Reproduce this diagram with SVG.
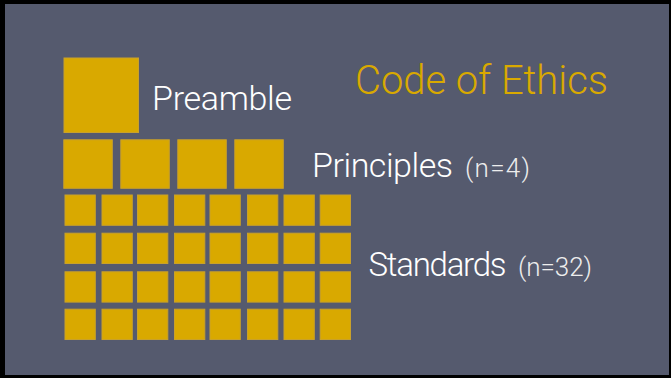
<svg xmlns="http://www.w3.org/2000/svg" width="671" height="378" viewBox="0 0 671 378">
<style>
.sq{fill:#D9A900;stroke:#C9A12A;stroke-width:1}
.lbl{font-family:Roboto,"Open Sans","Liberation Sans",sans-serif;font-weight:300;fill:#FFFFFF}
.sub{fill:#EDEDED}
.title{font-family:Roboto,"Open Sans","Liberation Sans",sans-serif;font-weight:300;fill:#D9A900}
</style>
<rect x="0" y="0" width="671" height="378" fill="#000000"/>
<rect x="5" y="4" width="664" height="371" fill="#555A6E"/>
<g id="title"><text class="title" x="355" y="94" font-size="40" textLength="253">Code of Ethics</text></g>
<g id="preamble">
<rect class="sq" x="64" y="58" width="74.5" height="74.5"/>
<text class="lbl" x="152" y="110" font-size="34" textLength="140">Preamble</text>
</g>
<g id="principles">
<rect class="sq" x="63.8" y="139.8" width="48.5" height="48.5"/>
<rect class="sq" x="120.8" y="139.8" width="48.5" height="48.5"/>
<rect class="sq" x="177.8" y="139.8" width="48.5" height="48.5"/>
<rect class="sq" x="234.8" y="139.8" width="48.5" height="48.5"/>
<text class="lbl" x="312" y="177" font-size="34"><tspan textLength="141">Principles</tspan><tspan class="sub" x="465" font-size="26" textLength="65">(n=4)</tspan></text>
</g>
<g id="standards">
<g id="std-grid">
<rect class="sq" x="65" y="195" width="30.3" height="30.3"/><rect class="sq" x="102" y="195" width="30.3" height="30.3"/><rect class="sq" x="137.5" y="195" width="30.3" height="30.3"/><rect class="sq" x="174.5" y="195" width="30.3" height="30.3"/><rect class="sq" x="210" y="195" width="30.3" height="30.3"/><rect class="sq" x="247.5" y="195" width="30.3" height="30.3"/><rect class="sq" x="284" y="195" width="30.3" height="30.3"/><rect class="sq" x="320.2" y="195" width="30.3" height="30.3"/>
<rect class="sq" x="65" y="233.2" width="30.3" height="30.3"/><rect class="sq" x="102" y="233.2" width="30.3" height="30.3"/><rect class="sq" x="137.5" y="233.2" width="30.3" height="30.3"/><rect class="sq" x="174.5" y="233.2" width="30.3" height="30.3"/><rect class="sq" x="210" y="233.2" width="30.3" height="30.3"/><rect class="sq" x="247.5" y="233.2" width="30.3" height="30.3"/><rect class="sq" x="284" y="233.2" width="30.3" height="30.3"/><rect class="sq" x="320.2" y="233.2" width="30.3" height="30.3"/>
<rect class="sq" x="65" y="271.8" width="30.3" height="30.3"/><rect class="sq" x="102" y="271.8" width="30.3" height="30.3"/><rect class="sq" x="137.5" y="271.8" width="30.3" height="30.3"/><rect class="sq" x="174.5" y="271.8" width="30.3" height="30.3"/><rect class="sq" x="210" y="271.8" width="30.3" height="30.3"/><rect class="sq" x="247.5" y="271.8" width="30.3" height="30.3"/><rect class="sq" x="284" y="271.8" width="30.3" height="30.3"/><rect class="sq" x="320.2" y="271.8" width="30.3" height="30.3"/>
<rect class="sq" x="65" y="309.2" width="30.3" height="30.3"/><rect class="sq" x="102" y="309.2" width="30.3" height="30.3"/><rect class="sq" x="137.5" y="309.2" width="30.3" height="30.3"/><rect class="sq" x="174.5" y="309.2" width="30.3" height="30.3"/><rect class="sq" x="210" y="309.2" width="30.3" height="30.3"/><rect class="sq" x="247.5" y="309.2" width="30.3" height="30.3"/><rect class="sq" x="284" y="309.2" width="30.3" height="30.3"/><rect class="sq" x="320.2" y="309.2" width="30.3" height="30.3"/>
</g>
<text class="lbl" x="368.5" y="276" font-size="33"><tspan textLength="138">Standards</tspan><tspan class="sub" x="518" font-size="26" textLength="74">(n=32)</tspan></text>
</g>
</svg>
